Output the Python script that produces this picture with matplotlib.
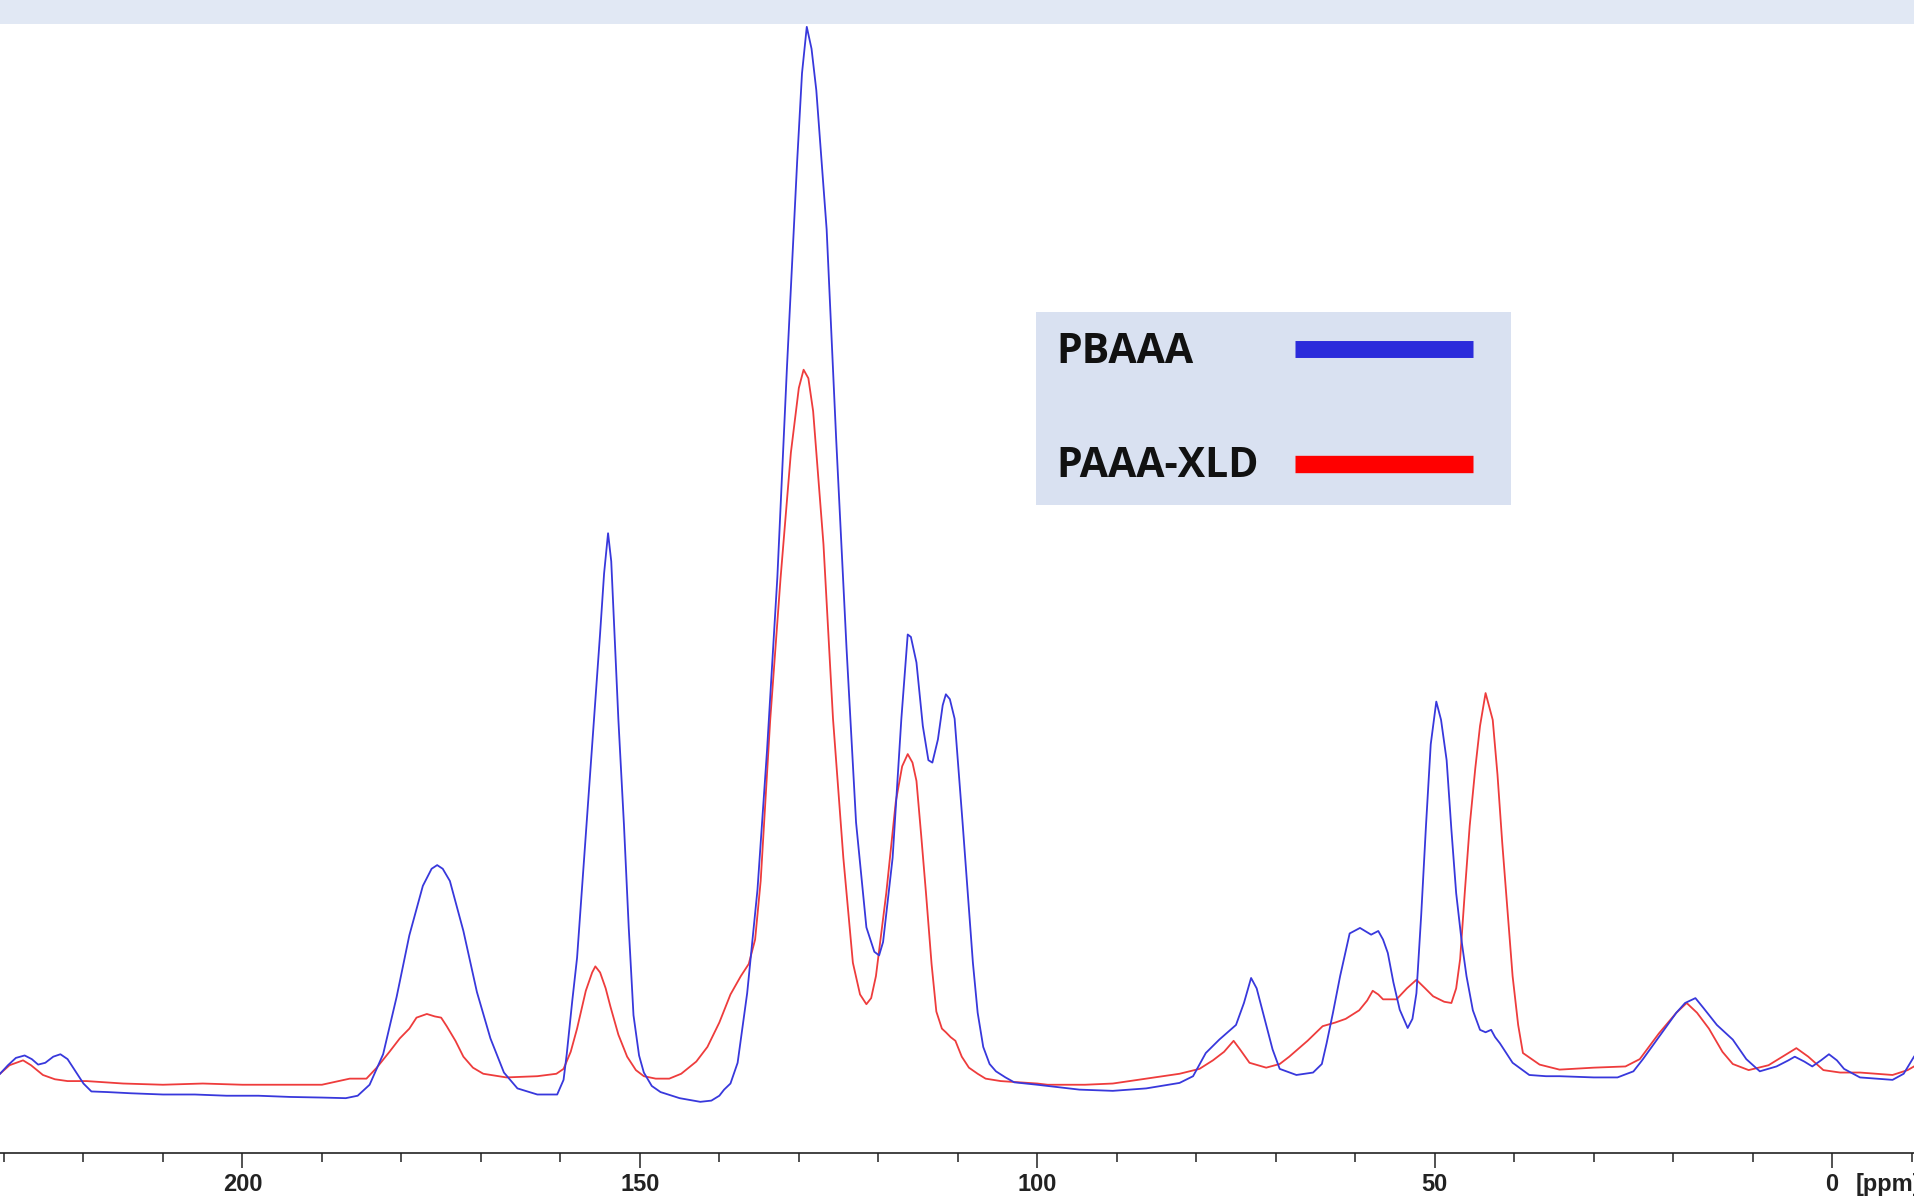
import numpy as np
import matplotlib.pyplot as plt
from matplotlib.patches import Rectangle

# chemical shift (ppm) and intensity (a.u.)
blue_ppm = [230.5, 229.5, 228.5, 227.4, 226.5, 225.7, 224.8, 223.8, 222.9, 222.0, 221.0, 220.0, 219.0,
            217, 214, 210, 206, 202, 198, 194, 190, 187, 185.5, 184, 182.3, 180.6, 179, 177.3, 176.2,
            175.5, 174.8, 173.9, 172.2, 170.5, 168.8, 167.1, 165.4, 162.9, 160.4, 159.6, 159.2, 158.5,
            157.9, 157.0, 156.2, 155.0, 154.5, 154.0, 153.6, 153.3, 152.7, 152.0, 151.4, 150.8, 150.1,
            149.5, 148.5, 147.4, 145, 142.4, 141, 140, 139.4, 138.6, 137.7, 136.5, 135.2, 134.0, 132.7,
            131.5, 130.2, 129.6, 129.0, 128.4, 127.8, 126.5, 125.3, 124.0, 122.8, 121.5, 120.5, 119.9,
            119.4, 118.2, 117.1, 116.3, 115.9, 115.2, 114.4, 113.7, 113.2, 112.5, 111.9, 111.5, 111.0,
            110.4, 109.4, 108.1, 107.5, 106.8, 106.0, 105.2, 104, 102.9, 100, 98.7, 94.7, 90.5, 86.3,
            82.1, 80.4, 78.8, 77.1, 75.0, 74.0, 73.1, 72.4, 71.6, 70.4, 69.5, 67.4, 65.3, 64.2, 63.6,
            62.8, 61.9, 60.7, 59.4, 58.0, 57.1, 56.5, 55.9, 55.2, 54.4, 53.4, 52.8, 52.3, 51.7, 51.1,
            50.5, 49.8, 49.2, 48.5, 47.9, 47.3, 46.6, 46.0, 45.2, 44.3, 43.6, 42.9, 42.4, 41.8, 40.2,
            38.1, 36, 34.3, 30, 27, 25, 23.8, 21.7, 19.6, 18.5, 17.2, 16.2, 14.5, 12.5, 10.8, 9.1, 7,
            5.5, 4.7, 3.5, 2.5, 1.4, 0.4, -0.6, -1.5, -3.5, -5.5, -7.6, -9, -10.3]
blue_int = [65, 72, 78, 80, 77, 72.5, 74, 79, 81, 77, 67, 57, 50.5,
            50, 49, 48, 48, 47, 47, 46, 45.5, 45, 47, 56, 81, 128, 178.5, 219, 233,
            236, 233, 223, 182, 132, 94, 66, 53, 48, 48, 60, 81, 125,
            160, 242, 316, 426, 475, 508, 485, 442, 355, 269, 185, 113, 80,
            66, 55, 50, 45, 42, 43, 47, 52, 57, 74, 131, 216, 330, 472,
            643, 814, 885, 923, 905, 871, 757, 585, 414, 271, 185, 165, 162,
            173, 242, 356, 425, 423, 402, 350, 322, 320, 339, 367, 376, 372,
            356, 271, 156, 115, 87, 73, 67, 62, 58, 56, 55, 52, 51, 53,
            57.5, 63, 82, 93, 105, 123, 143.5, 135, 115, 85, 69, 64, 66, 73, 90,
            115, 145, 180, 184.5, 179, 182, 175, 164, 140, 117.5, 102.5, 110, 131, 195, 268,
            335, 370, 355, 322, 265, 213, 173, 145, 117, 101, 99, 101, 95, 90, 74,
            64, 63, 63, 62, 62, 67, 77, 96, 115, 123, 127, 119, 105, 93, 77, 67, 71,
            76, 79, 75, 71, 76, 81, 76, 69, 62, 61, 60, 65, 79]

red_ppm = [230.5, 229.3, 227.6, 226.6, 225.1, 223.6, 222, 219.6, 215, 210, 205, 200, 195, 190, 186.5,
           184.4, 183.1, 181.5, 180.2, 179, 178.1, 176.8, 175.8, 175, 174.3, 173.2, 172.2, 171, 169.7,
           166.8, 162.9, 160.5, 159.6, 158.7, 157.9, 156.8, 156.0, 155.6, 155.0, 154.3, 153.7, 152.7,
           151.6, 150.5, 149.5, 148, 146.3, 144.8, 142.9, 141.5, 140.0, 138.6, 137.3, 136.3, 135.5,
           134.8, 133.6, 132.3, 131.0, 130.0, 129.4, 128.8, 128.2, 126.9, 125.7, 124.4, 123.2, 122.3,
           121.5, 120.9, 120.3, 119.0, 117.8, 117.0, 116.3, 115.7, 115.2, 114.6, 114.0, 113.3, 112.7,
           112.0, 111.5, 110.9, 110.3, 109.5, 108.6, 107.5, 106.5, 104.6, 100, 98.7, 94, 90.5, 86.3,
           82.1, 79.6, 77.9, 76.5, 75.3, 74.5, 73.3, 71.2, 69.5, 68.3, 66, 64.1, 62.5, 61.2, 59.5,
           58.5, 57.8, 57.1, 56.5, 54.8, 53.5, 52.3, 51.2, 50.2, 48.8, 47.9, 47.3, 46.8, 46.2, 45.6,
           44.9, 44.3, 43.6, 42.7, 42.1, 41.5, 40.8, 40.2, 39.5, 38.9, 36.8, 34.3, 30, 26, 24.2, 21.8,
           19.6, 18.3, 17, 15.5, 13.8, 12.5, 10.5, 8, 6, 4.5, 3, 1.1, -1, -3.5, -7.6, -9.5, -10.3]
red_int = [65, 72, 76, 72, 64, 60.5, 59, 59, 57, 56, 57, 56, 56, 56, 61,
           61, 70, 83, 94, 102, 111, 114, 112, 111, 104, 92, 79, 70, 65,
           62, 63, 65, 69, 83, 102, 133, 148, 153, 148, 135, 120, 97,
           79, 68, 63, 61, 61, 65, 75, 87, 107, 130, 145, 155, 175,
           223, 355, 471, 574, 627, 642, 635, 608, 499, 356, 242, 156, 130,
           122, 127, 145, 213, 288, 317, 327, 320, 305, 260, 213, 155, 116,
           102, 99, 95, 92, 79, 70, 65, 61, 59, 57, 56, 56, 57, 61,
           65, 69, 76, 83, 92, 85, 74, 70, 73, 79, 92, 104, 107, 110, 117,
           125, 133, 130, 126, 126, 135, 142, 135, 128.5, 124, 123, 135, 159, 215, 268,
           315, 350, 377, 355, 310, 254, 195, 145, 105, 82, 72.5, 68.4, 70, 71, 77, 98,
           115, 123, 115, 102, 83, 73, 68, 72, 80, 86, 79, 68, 66, 66, 64, 68, 71]

series_names = ['PBAAA', 'PAAA-XLD']
major_ticks = [200, 150, 100, 50, 0]
tick_labels = ['200', '150', '100', '50', '0']
minor_ticks = list(range(-10, 231, 10))

blue = '#3838dc'
red = '#ee3c3c'

fig = plt.figure(figsize=(19.14, 11.97), dpi=100)
ax = fig.add_axes([0, 0, 1, 1])

ax.plot(red_ppm, red_int, color=red, lw=1.3)
ax.plot(blue_ppm, blue_int, color=blue, lw=1.3)

ax.set_xlim(230.5, -10.3)
ax.set_ylim(-36, 945)

# axis line sits a little under the spectrum baseline
for s in ['top', 'left', 'right']:
    ax.spines[s].set_visible(False)
ax.spines['bottom'].set_position(('data', 0))
ax.spines['bottom'].set_linewidth(1.2)
ax.spines['bottom'].set_color('#222222')
ax.set_yticks([])
ax.set_xticks(major_ticks, tick_labels)
ax.set_xticks(minor_ticks, minor=True)
ax.tick_params(axis='x', which='major', direction='out', length=10.5, width=1.1,
               pad=4, labelsize=17, colors='#222222')
ax.tick_params(axis='x', which='minor', direction='out', length=6.5, width=1.1, colors='#222222')
for lbl in ax.get_xticklabels():
    lbl.set_fontweight('bold')
    lbl.set_family('Liberation Sans')
ax.text(-3.0, -25.8, '[ppm]', ha='left', va='center', fontsize=17, fontweight='bold',
        family='Liberation Sans', color='#222222')

# pale band across the top
ax.add_patch(Rectangle((0, 1 - 24 / 1197), 1, 24 / 1197, transform=ax.transAxes,
                       facecolor='#e1e8f4', edgecolor='none', zorder=3))

# legend box
ax.add_patch(Rectangle((0.5413, 0.5781), 0.2482, 0.1612, transform=ax.transAxes,
                       facecolor='#d9e1f1', edgecolor='none', zorder=4))
ax.text(0.5517, 0.7055, series_names[0], transform=ax.transAxes, fontsize=29.5, fontweight='bold',
        family='Open Sans', va='center', color='#111111', zorder=5)
ax.text(0.5517, 0.6099, series_names[1], transform=ax.transAxes, fontsize=29.5, fontweight='bold',
        family='Open Sans', va='center', color='#111111', zorder=5)
ax.plot([0.6766, 0.7696], [0.7087, 0.7087], transform=ax.transAxes, color='#2b2bdb', lw=12.2,
        solid_capstyle='butt', zorder=5)
ax.plot([0.6766, 0.7696], [0.6124, 0.6124], transform=ax.transAxes, color='#ff0000', lw=12.5,
        solid_capstyle='butt', zorder=5)

fig.savefig('out.png', dpi=100)
